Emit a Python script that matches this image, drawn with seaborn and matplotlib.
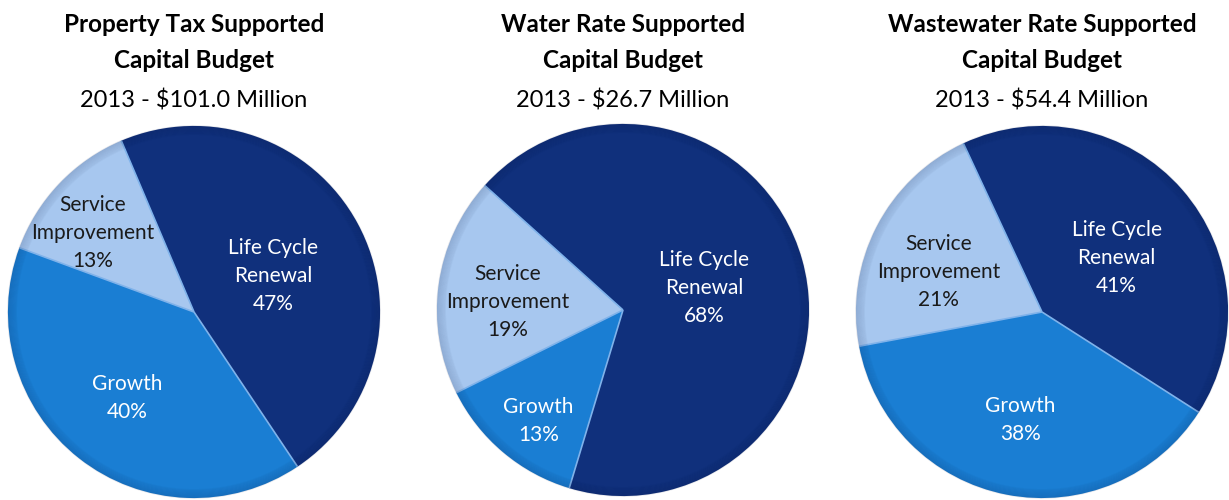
import numpy as np
import matplotlib
matplotlib.use("Agg")
import matplotlib.pyplot as plt
import seaborn as sns

# Capital budget split by funding source, 2013
categories = ["Life Cycle\nRenewal", "Growth", "Service\nImprovement"]
titles = ["Property Tax Supported\nCapital Budget",
          "Water Rate Supported\nCapital Budget",
          "Wastewater Rate Supported\nCapital Budget"]
subtitles = ["2013 - $101.0 Million", "2013 - $26.7 Million", "2013 - $54.4 Million"]
property_tax = [47, 40, 13]
water_rate = [68, 13, 19]
wastewater_rate = [41, 38, 21]

sns.set_theme(style="white")
plt.rcParams["font.family"] = ["Lato", "DejaVu Sans"]

palette = sns.color_palette(["#10307c", "#1a7ed3", "#a7c7ef"])
text_colors = ["white", "white", "#1a1a1a"]

W, H = 1229, 500
fig = plt.figure(figsize=(W / 100, H / 100), dpi=100)
fig.patch.set_facecolor("white")

# per-chart layout: centre (px), radius (px), start angle,
# label anchors as (radius fraction, angle in degrees) per slice
layouts = [
    dict(cx=194, cy=312, r=187, start=113,
         anchors=[(0.473, 26.1), (0.572, 231.3), (0.70, 141.2)]),
    dict(cx=623, cy=310, r=187, start=138,
         anchors=[(0.458, 17.0), (0.739, 232.0), (0.623, 174.6)]),
    dict(cx=1042, cy=312, r=187, start=115,
         anchors=[(0.504, 37.2), (0.579, 258.3), (0.60, 157.5)]),
]
series = [property_tax, water_rate, wastewater_rate]
label_drop = 0.014  # nudge label blocks down slightly (axes units)

for vals, lay, title, sub in zip(series, layouts, titles, subtitles):
    cx, cy, r = lay["cx"], lay["cy"], lay["r"]
    ax = fig.add_axes([(cx - r) / W, (H - cy - r) / H, 2 * r / W, 2 * r / H])
    wedges, _ = ax.pie(vals, colors=palette, startangle=lay["start"],
                       counterclock=False, radius=1,
                       wedgeprops=dict(linewidth=0))
    # thin light separators between slices
    for w in wedges:
        t = np.deg2rad(w.theta1)
        ax.plot([0, np.cos(t)], [0, np.sin(t)], color="#7fb2ea", lw=1.2,
                solid_capstyle="butt", zorder=3)
    # soft darker rim to give the disc some depth
    for k in range(10):
        ax.add_patch(plt.Circle((0, 0), 1 - k * 0.005, fill=False,
                                edgecolor="#05123a", linewidth=1.0,
                                alpha=0.10 - k * 0.008, zorder=4))
    for lab, v, (d, ang), tc in zip(categories, vals, lay["anchors"], text_colors):
        a = np.deg2rad(ang)
        ax.text(d * np.cos(a), d * np.sin(a) - label_drop, f"{lab}\n{v}%",
                ha="center", va="center", color=tc, fontsize=15,
                linespacing=1.5, zorder=5)
    ax.set_xlim(-1.005, 1.005)
    ax.set_ylim(-1.005, 1.005)
    ax.set_aspect("equal")
    ax.axis("off")

    fig.text(cx / W, 1 - 42.5 / H, title, ha="center", va="center",
             fontsize=17.5, fontweight="bold", color="black", linespacing=1.73)
    fig.text(cx / W, 1 - 100.5 / H, sub, ha="center", va="center",
             fontsize=17, color="black")

fig.savefig("out.png", dpi=100, facecolor="white")
